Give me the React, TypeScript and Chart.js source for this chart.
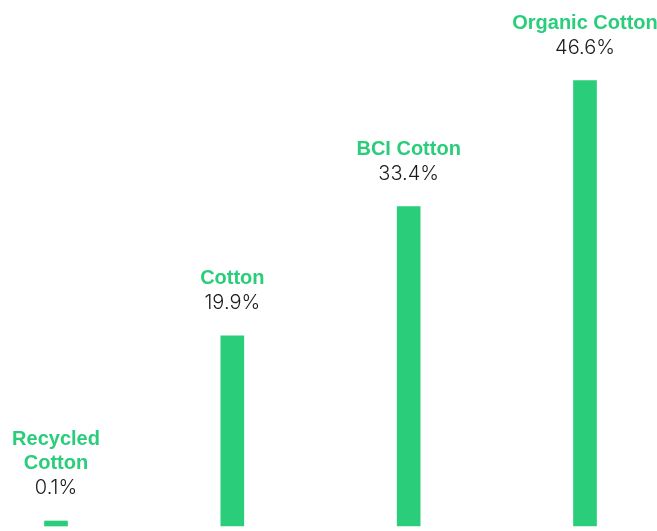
import React, { useEffect, useRef } from "react";
import { Chart, registerables } from "chart.js";

Chart.register(...registerables);

const categories: string[][] = [["Recycled", "Cotton"], ["Cotton"], ["BCI Cotton"], ["Organic Cotton"]];
const shares: number[] = [0.1, 19.9, 33.4, 46.6];
const shareLabels: string[] = ["0.1%", "19.9%", "33.4%", "46.6%"];

const GREEN = "#2acd7a";

const labelPlugin = {
  id: "barLabels",
  afterDatasetsDraw(chart: any) {
    const ctx = chart.ctx;
    const meta = chart.getDatasetMeta(0);
    ctx.save();
    ctx.textAlign = "center";
    ctx.textBaseline = "middle";
    meta.data.forEach((bar: any, i: number) => {
      const x = bar.x;
      const top = bar.y;
      const pctY = top - 33;
      ctx.fillStyle = "#1a1a1a";
      ctx.font = "300 20px Inter, 'Liberation Sans', sans-serif";
      ctx.fillText(shareLabels[i], x, pctY);
      ctx.fillStyle = GREEN;
      ctx.font = "bold 20px 'Liberation Sans', Arial, sans-serif";
      const lines = categories[i];
      lines.forEach((line, k) => {
        const y = pctY - 24.5 * (lines.length - k);
        ctx.fillText(line, x, y);
      });
    });
    ctx.restore();
  },
};

export default function App() {
  const ref = useRef<HTMLCanvasElement | null>(null);
  useEffect(() => {
    document.body.style.margin = "0";
    const chart = new Chart(ref.current as HTMLCanvasElement, {
      type: "bar",
      data: {
        labels: categories.map((c) => c.join(" ")),
        datasets: [
          {
            data: shares,
            backgroundColor: GREEN,
            borderWidth: 0,
            barThickness: 23,
            minBarLength: 5,
            clip: false as any,
          },
        ],
      },
      options: {
        animation: false,
        responsive: false,
        maintainAspectRatio: false,
        layout: { padding: { left: 56, right: 72, top: 48, bottom: 5 } },
        plugins: { legend: { display: false }, tooltip: { enabled: false } },
        scales: {
          x: { display: false, offset: false, grid: { display: false } },
          y: { display: false, min: 0, max: 50 },
        },
      },
      plugins: [labelPlugin],
    });
    return () => chart.destroy();
  }, []);
  return (
    <div style={{ width: 657, height: 531 }}>
      <canvas ref={ref} width={657} height={531} style={{ display: "block" }} />
    </div>
  );
}
